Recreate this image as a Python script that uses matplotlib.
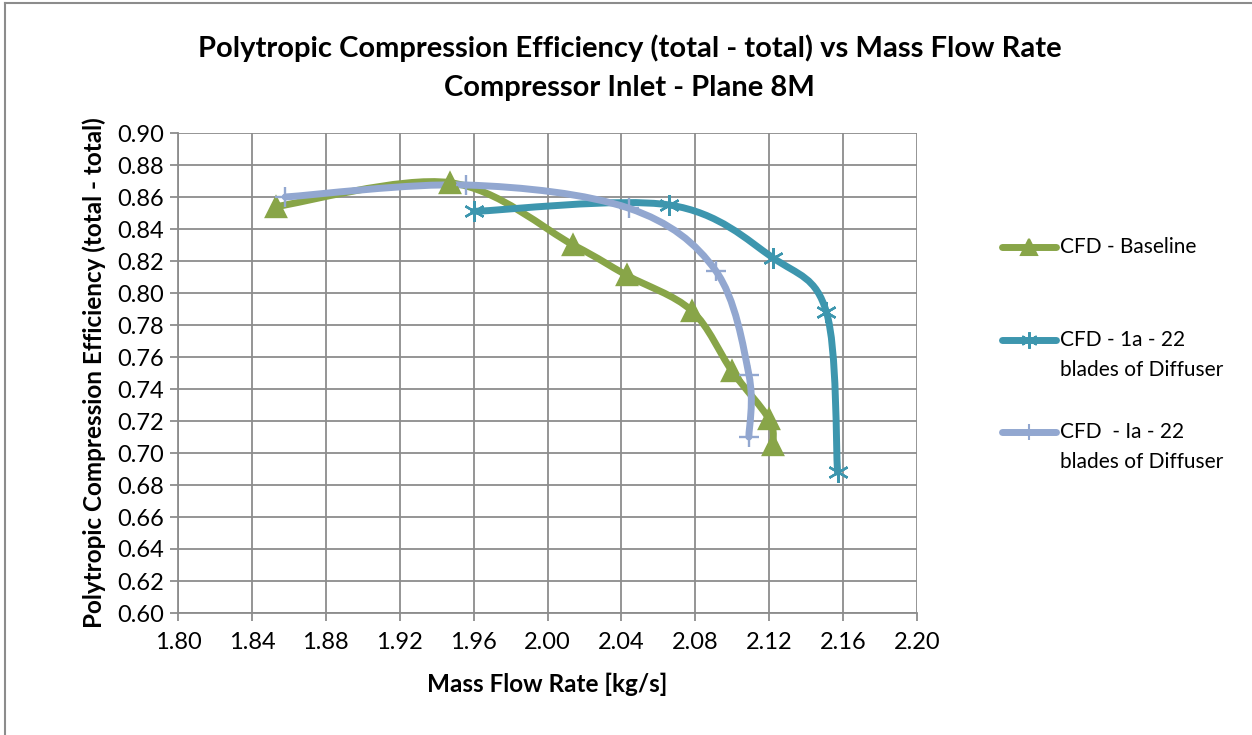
import numpy as np
import matplotlib
matplotlib.use("Agg")
import matplotlib.pyplot as plt
from matplotlib.path import Path
from matplotlib.patches import PathPatch
from matplotlib.lines import Line2D

plt.rcParams['font.family'] = ['Lato', 'DejaVu Sans']

# data
base_x = [1.853, 1.947, 2.014, 2.043, 2.078, 2.100, 2.120, 2.122]
base_y = [0.854, 0.869, 0.830, 0.811, 0.789, 0.751, 0.721, 0.705]

d1a_x = [1.960, 2.066, 2.122, 2.151, 2.157]
d1a_y = [0.851, 0.855, 0.822, 0.788, 0.688]

dIa_x = [1.858, 1.956, 2.044, 2.091, 2.109, 2.109]
dIa_y = [0.860, 0.8675, 0.853, 0.814, 0.749, 0.710]

labels = ['CFD - Baseline', 'CFD - 1a - 22\nblades of Diffuser', 'CFD  - Ia - 22\nblades of Diffuser']
colors = ['#88A548', '#3D96AE', '#92A7D0']
markers = ['^', (6, 2, 0), '+']
msizes = [14, 15, 15]


def smooth_path(xs, ys):
    # Excel-style smoothed line: cubic bezier through the points (Catmull-Rom)
    p = np.column_stack([xs, ys])
    n = len(p)
    verts = [p[0]]
    codes = [Path.MOVETO]
    for i in range(n - 1):
        p0 = p[i - 1] if i > 0 else p[i]
        p3 = p[i + 2] if i + 2 < n else p[i + 1]
        c1 = p[i] + (p[i + 1] - p0) / 6.0
        c2 = p[i + 1] - (p3 - p[i]) / 6.0
        verts += [c1, c2, p[i + 1]]
        codes += [Path.CURVE4] * 3
    return Path(verts, codes)


fig = plt.figure(figsize=(12.52, 7.35), dpi=100)
ax = fig.add_axes([178 / 1252, 1 - 613 / 735, (917 - 178) / 1252, (613 - 133) / 735])

series = [(base_x, base_y), (d1a_x, d1a_y), (dIa_x, dIa_y)]
for (xs, ys), c, m, ms in zip(series, colors, markers, msizes):
    ax.add_patch(PathPatch(smooth_path(xs, ys), facecolor='none', edgecolor=c,
                           lw=5, capstyle='round', zorder=3))
    ax.plot(xs, ys, linestyle='none', marker=m, markersize=ms, color=c,
            markeredgewidth=1.7, zorder=4)

ax.set_xlim(1.80, 2.20)
ax.set_ylim(0.60, 0.90)
ax.set_xticks(np.arange(1.80, 2.201, 0.04))
ax.set_yticks(np.arange(0.60, 0.901, 0.02))
ax.xaxis.set_major_formatter(matplotlib.ticker.FormatStrFormatter('%.2f'))
ax.yaxis.set_major_formatter(matplotlib.ticker.FormatStrFormatter('%.2f'))
ax.grid(True, color='#8C8C8C', lw=1.3)
ax.set_axisbelow(True)
for s in ['top', 'right']:
    ax.spines[s].set_visible(False)
for s in ['left', 'bottom']:
    ax.spines[s].set_color('#8C8C8C')
    ax.spines[s].set_linewidth(1.3)
ax.tick_params(axis='both', colors='#8C8C8C', labelcolor='black', labelsize=17,
               length=6, width=1.3, direction='out')
ax.tick_params(axis='x', pad=8)
ax.tick_params(axis='y', pad=4)

ax.set_xlabel('Mass Flow Rate [kg/s]', fontsize=17.5, fontweight='bold', labelpad=14)
ax.set_ylabel('Polytropic Compression Efficiency (total - total)', fontsize=17.5,
              fontweight='bold', labelpad=8)

fig.text(0.503, 1 - 48 / 735, 'Polytropic Compression Efficiency (total - total) vs Mass Flow Rate',
         ha='center', va='center', fontsize=21, fontweight='bold')
fig.text(0.503, 1 - 88 / 735, 'Compressor Inlet - Plane 8M',
         ha='center', va='center', fontsize=21, fontweight='bold')

# legend drawn by hand to mimic the spacing of the original
leg_y = [247, 340, 432]
for lab, c, m, ms, y in zip(labels, colors, markers, msizes, leg_y):
    yf = 1 - y / 735
    fig.add_artist(Line2D([1002 / 1252, 1056 / 1252], [yf, yf], color=c, lw=5,
                          solid_capstyle='round', transform=fig.transFigure))
    fig.add_artist(Line2D([1029 / 1252], [yf], color=c, marker=m, markersize=ms * 0.8,
                          markeredgewidth=1.5, transform=fig.transFigure))
    for k, t in enumerate(lab.split('\n')):
        fig.text(1060 / 1252, 1 - (y + 30 * k) / 735, t, ha='left', va='center', fontsize=15)

# chart border
fig.add_artist(Line2D([5 / 1252, 5 / 1252], [0, 1 - 3 / 735], color='#8C8C8C', lw=1.5,
                      transform=fig.transFigure))
fig.add_artist(Line2D([5 / 1252, 1], [1 - 3 / 735, 1 - 3 / 735], color='#8C8C8C', lw=1.5,
                      transform=fig.transFigure))

fig.savefig('out.png', dpi=100)
